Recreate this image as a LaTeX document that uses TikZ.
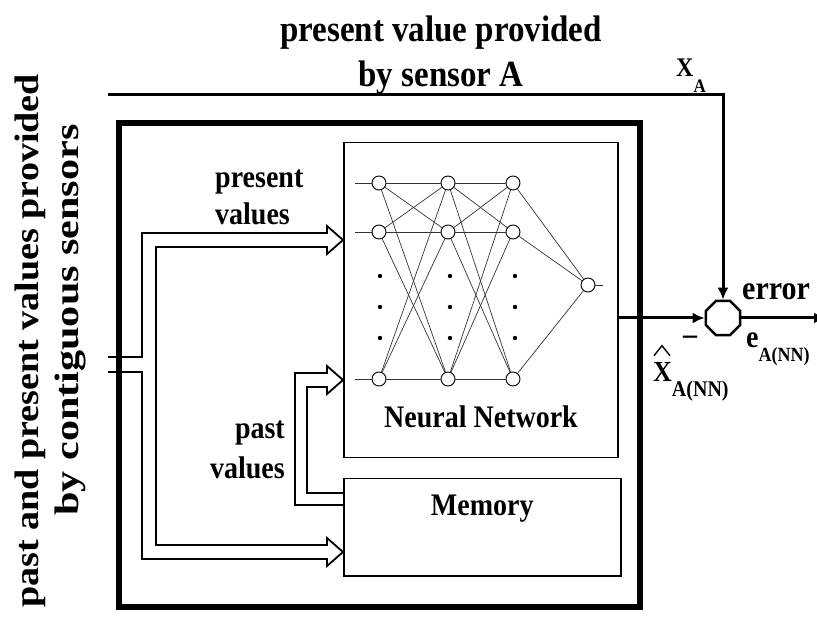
\documentclass[tikz,border=0pt]{standalone}
\usepackage{fontspec}
\setmainfont{Liberation Serif}
\usetikzlibrary{shapes.geometric,arrows.meta,positioning}
\begin{document}
\begin{tikzpicture}[x=1pt,y=-1pt,>={Latex[length=12pt,width=11pt]},
    lbl/.style={inner sep=0pt,yscale=1.12},
    vlbl/.style={inner sep=0pt,rotate=90,font=\fontsize{34}{36}\bfseries},
    neuron/.style={circle,draw,fill=white,minimum size=14pt,inner sep=0pt,line width=0.9pt},
    link/.style={line width=0.7pt,draw=black!80},
    dbl/.style={line width=1.8pt},
    sig/.style={line width=3pt}]
\useasboundingbox (0,0) rectangle (817,617);
% frame and blocks
\draw[line width=6pt] (119,123) rectangle (640,607);
\node[draw,line width=1.5pt,minimum width=274pt,minimum height=315pt,anchor=north west] (nn) at (343,142) {};
\node[draw,line width=1.5pt,minimum width=277pt,minimum height=97pt,anchor=north west] (mem) at (343,478) {};
\node[lbl,font=\fontsize{28}{30}\bfseries] (nnlbl) at (481,417) {Neural Network};
\node[lbl,font=\fontsize{28}{30}\bfseries,below=17pt of mem.north] (memlbl) {Memory};
% neurons
\foreach \l/\x in {1/379,2/448,3/513}
  \foreach \r/\y in {1/183,2/232,3/379}
    \node[neuron] (n\l\r) at (\x,\y) {};
\node[neuron] (out) at (588,285) {};
\foreach \a in {1,2,3}{
  \foreach \b in {1,2,3}{
    \draw[link] (n1\a) -- (n2\b);
    \draw[link] (n2\a) -- (n3\b);}
  \draw[link] (n3\a) -- (out);
  \draw[link] (n1\a.west) -- ++(-17,0);}
\draw[link] (out.east) -- ++(8,0);
\foreach \x in {380,450,515}
  \foreach \y in {276,307,338}
    \fill (\x,\y) circle (2.2);
% summing point
\node[regular polygon,regular polygon sides=8,draw,line width=2.5pt,minimum size=37pt,inner sep=0pt] (sum) at (723,318) {};
\coordinate (xa) at (108,95);
\coordinate (eout) at (826,318);
\draw[sig,->] (xa) -| (sum.north);
\draw[sig,->] (nn.east|-sum) -- (sum.west);
\draw[sig,->] (sum.east) -- (eout);
% double arrows
\coordinate (in1) at (108,357);
\coordinate (in2) at (108,372);
\draw[dbl] (in1) -- (142,357) -- (142,233) -- (327,233) -- (327,226) -- (343,240) -- (327,254) -- (327,247)
  -- (156,247) -- (156,545) -- (327,545) -- (327,538) -- (343,552) -- (327,566) -- (327,559) -- (142,559) -- (142,372) -- (in2);
\draw[dbl] (343,505) -- (295,505) -- (295,373) -- (327,373) -- (327,366) -- (343,380) -- (327,394) -- (327,387)
  -- (307,387) -- (307,493) -- (343,493);
% labels
\node[lbl,font=\fontsize{33}{40}\bfseries,align=center] (title) at (441,55) {present value provided\\by sensor A};
\node[vlbl,xscale=1.12] (side1) at (30,341) {past and present values provided};
\node[vlbl,xscale=1.24] (side2) at (70,320) {by contiguous sensors};
\node[lbl,font=\fontsize{28}{33}\bfseries,align=left,anchor=north west] (pres) at (215,170) {present\\values};
\node[lbl,font=\fontsize{28}{35}\bfseries,align=right,anchor=north east] (past) at (285,421) {past\\values};
\node[lbl,font=\fontsize{24}{25}\bfseries,anchor=base west] (xalbl) at (676,77) {X\raisebox{-14pt}{\fontsize{17}{17}\selectfont A}};
\node[lbl,font=\fontsize{26}{28}\bfseries,anchor=base west] (xhat) at (653,382)
  {X\raisebox{-13pt}{\fontsize{20}{20}\selectfont A(NN)}};
\draw[line width=1.4pt] (xhat.north west) ++(1,-7) -- ++(8,-10) -- ++(8,10);
\node[lbl,font=\fontsize{28}{30}\bfseries,anchor=base] (minus) at (690,345) {--};
\node[lbl,font=\fontsize{30}{32}\bfseries,anchor=base west] (err) at (742,300) {error};
\node[lbl,font=\fontsize{28}{30}\bfseries,anchor=base west] (elbl) at (746,348) {e\raisebox{-12pt}{\fontsize{18}{18}\selectfont A(NN)}};
\end{tikzpicture}
\end{document}
